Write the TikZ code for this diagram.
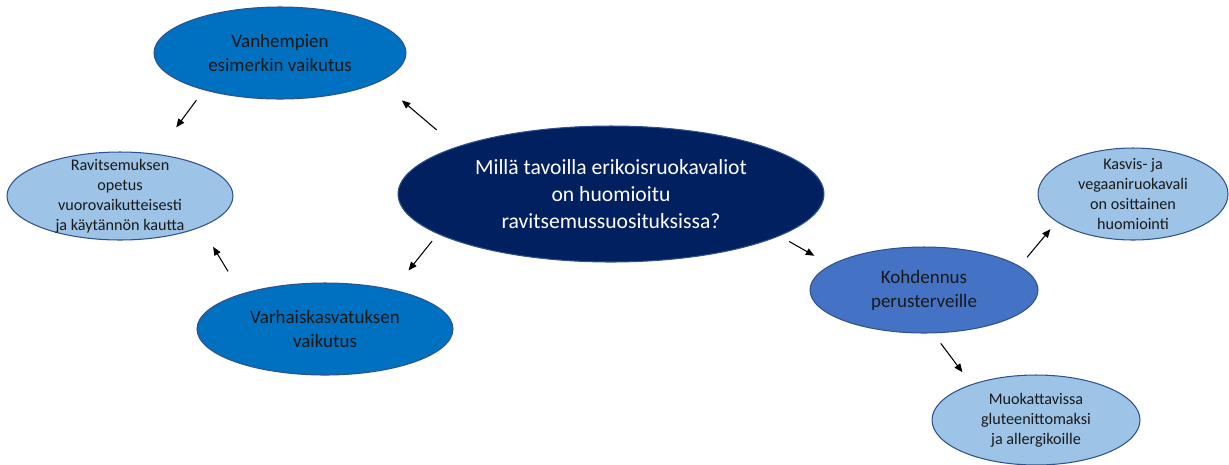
\documentclass[tikz,border=0pt]{standalone}
\usepackage{fontspec}
\setmainfont{Carlito}
\usepackage{tikz}
\usetikzlibrary{shapes.geometric,arrows.meta}

\definecolor{navy}{HTML}{002060}
\definecolor{midblue}{HTML}{0070C0}
\definecolor{accblue}{HTML}{4472C4}
\definecolor{paleblue}{HTML}{9DC3E6}
\definecolor{rimblue}{HTML}{2F528F}

\begin{document}
\begin{tikzpicture}[x=0.02cm,y=-0.02cm,
  bubble/.style={ellipse,draw=rimblue,line width=0.6pt,inner sep=0pt},
  bigtxt/.style={align=center,text=white,font=\fontsize{12.3}{15.3}\selectfont},
  midtxt/.style={align=center,text=black!90,font=\fontsize{10.8}{13.6}\selectfont},
  smalltxt/.style={align=center,text=black!90,font=\fontsize{9.2}{11.4}\selectfont},
  arr/.style={-{Triangle[length=0.17cm,width=0.14cm]},line width=0.6pt}]
\useasboundingbox (0,0) rectangle (1229,464);

% Central question
\node[bubble,fill=navy,minimum width=8.52cm,minimum height=2.72cm] (main) at (611,194) {};
\node[bigtxt] (main-txt) at (main) {Millä tavoilla erikoisruokavaliot\\on huomioitu\\ravitsemussuosituksissa?};

% Left branch
\node[bubble,fill=midblue,minimum width=5.04cm,minimum height=1.84cm] (vanh) at (280,53) {};
\node[midtxt] (vanh-txt) at (vanh) {Vanhempien\\esimerkin vaikutus};

\node[bubble,fill=paleblue,minimum width=4.52cm,minimum height=1.76cm] (ravit) at (120,196) {};
\node[smalltxt] (ravit-txt) at (ravit) {Ravitsemuksen\\opetus\\vuorovaikutteisesti\\ja käytännön kautta};

\node[bubble,fill=midblue,minimum width=5.12cm,minimum height=1.84cm] (varh) at (325,329) {};
\node[midtxt] (varh-txt) at (varh) {Varhaiskasvatuksen\\vaikutus};

% Right branch
\node[bubble,fill=accblue,minimum width=4.56cm,minimum height=1.72cm] (kohd) at (924,290) {};
\node[midtxt] (kohd-txt) at (kohd) {Kohdennus\\perusterveille};

\node[bubble,fill=paleblue,minimum width=3.8cm,minimum height=1.84cm] (kasvis) at (1133,194) {};
\node[smalltxt] (kasvis-txt) at (kasvis) {Kasvis- ja\\vegaaniruokavali\\on osittainen\\huomiointi};

\node[bubble,fill=paleblue,minimum width=4.16cm,minimum height=1.8cm] (muok) at (1036,420) {};
\node[smalltxt] (muok-txt) at (muok) {Muokattavissa\\gluteenittomaksi\\ja allergikoille};

% Arrows
\draw[arr,shorten <=0.52cm,shorten >=0.58cm] (main.163) -- (vanh.-16);
\draw[arr,shorten <=0.25cm,shorten >=0.66cm] (vanh.206.6) -- (ravit.49.7);
\draw[arr,shorten <=0.52cm,shorten >=0.46cm] (varh.157.5) -- (ravit.-21.9);
\draw[arr,shorten <=0.18cm,shorten >=0.49cm] (main.193.9) -- (varh.30.8);
\draw[arr,shorten <=0.22cm,shorten >=0.37cm] (main.-14.5) -- (kohd.165.8);
\draw[arr,shorten <=0.23cm,shorten >=0.19cm] (kohd.14.8) -- (kasvis.200.4);
\draw[arr,shorten <=0.25cm,shorten >=0.30cm] (kohd.-78.8) -- (muok.151.8);
\end{tikzpicture}
\end{document}
